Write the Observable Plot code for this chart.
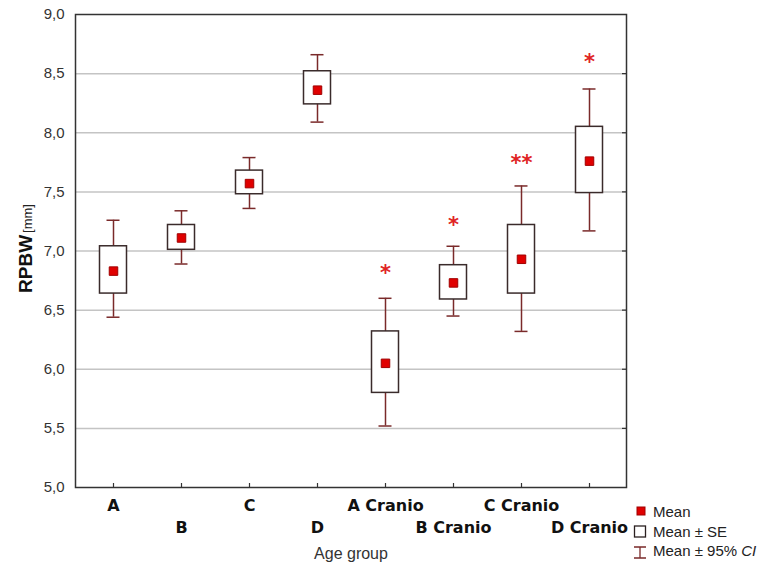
<!DOCTYPE html>
<html>
<head>
<meta charset="utf-8">
<script src="https://cdn.jsdelivr.net/npm/d3@7"></script>
<script src="https://cdn.jsdelivr.net/npm/@observablehq/plot@0.6"></script>
<style>
  body { margin: 0; background: #fff; }
  #wrap { position: relative; width: 764px; height: 567px; overflow: hidden; }
  #legend { position: absolute; left: 630px; top: 0; width: 134px; height: 567px;
            font-family: "Liberation Sans", Arial, sans-serif; font-size: 15px; color: #222; }
  .item { position: absolute; left: 0; height: 20px; display: flex; align-items: center; white-space: nowrap; }
  .item svg { width: 23px; height: 20px; flex: none; }
</style>
</head>
<body>
<div id="wrap">
  <div id="chart"></div>
  <div id="legend">
    <div class="item" style="top:501px"><svg viewBox="0 0 23 20"><rect x="7" y="6" width="8" height="8" fill="#e00000" stroke="#a00000" stroke-width="1"/></svg><span>Mean</span></div>
    <div class="item" style="top:521px"><svg viewBox="0 0 23 20"><rect x="4.5" y="5" width="11" height="11" fill="#fff" stroke="#2a2020" stroke-width="1.3"/></svg><span>Mean ± SE</span></div>
    <div class="item" style="top:540px"><svg viewBox="0 0 23 20"><path d="M4,7H16M10,7V18M4,18H16" fill="none" stroke="#7a2a2a" stroke-width="1.3"/></svg><span>Mean ± 95% <i>CI</i></span></div>
  </div>
</div>
<script>
const categories = ["A", "B", "C", "D", "A Cranio", "B Cranio", "C Cranio", "D Cranio"];
const means  = [6.83, 7.11, 7.57, 8.36, 6.05, 6.73, 6.93, 7.76];
const seLow  = [6.64, 7.01, 7.48, 8.24, 5.80, 6.59, 6.64, 7.49];
const seHigh = [7.04, 7.22, 7.68, 8.52, 6.32, 6.88, 7.22, 8.05];
const ciLow  = [6.44, 6.89, 7.36, 8.09, 5.52, 6.45, 6.32, 7.17];
const ciHigh = [7.26, 7.34, 7.79, 8.66, 6.60, 7.04, 7.55, 8.37];
const sigMarks = ["", "", "", "", "*", "*", "**", "*"];
const sigY     = [null, null, null, null, 6.85, 7.26, 7.78, 8.64];
const yTicks = [5.0, 5.5, 6.0, 6.5, 7.0, 7.5, 8.0, 8.5, 9.0];
const gridTicks = [5.5, 6.0, 6.5, 7.0, 7.5, 8.0, 8.5];
const labelRow1 = ["A", "C", "A Cranio", "C Cranio"];
const labelRow2 = ["B", "D", "B Cranio", "D Cranio"];
const yLabelMain = "RPBW";
const yLabelUnit = "[mm]";

const data = categories.map((c, i) => ({
  cat: c, mean: means[i], seLo: seLow[i], seHi: seHigh[i],
  ciLo: ciLow[i], ciHi: ciHigh[i], sig: sigMarks[i], sigY: sigY[i]
}));
const fmt = d => d.toFixed(1).replace(".", ",");
const boxStroke = "#3a2b2b";
const whisk = "#7a2a2a";

const chart = Plot.plot({
  width: 764, height: 567,
  marginLeft: 75, marginRight: 138, marginTop: 14, marginBottom: 80,
  style: { fontFamily: "'Liberation Sans', Arial, sans-serif", background: "white", overflow: "visible" },
  x: { type: "band", domain: categories, padding: 0, label: null },
  y: { domain: [5, 9], label: null },
  marks: [
    Plot.gridY(gridTicks, { stroke: "#c4c4c4", strokeWidth: 1.5, strokeOpacity: 1 }),
    Plot.axisY(yTicks, { anchor: "left", tickSize: 0, tickPadding: 11, tickFormat: fmt, fontSize: 15, fill: "#333", label: null }),
    Plot.axisY(gridTicks, { anchor: "right", tickSize: 5, dx: -5, tickFormat: () => "", stroke: "#333", strokeWidth: 1.2, label: null }),
    Plot.axisX({ anchor: "bottom", tickSize: 4, dy: -4, tickFormat: () => "", stroke: "#333", strokeWidth: 1.2, label: null }),
    Plot.axisX(labelRow1, { anchor: "bottom", tickSize: 0, tickPadding: 12, fontSize: 16, fontWeight: "bold", fontFamily: "DejaVu Sans", fill: "#111", label: null }),
    Plot.axisX(labelRow2, { anchor: "bottom", tickSize: 0, tickPadding: 34, fontSize: 16, fontWeight: "bold", fontFamily: "DejaVu Sans", fill: "#111", label: null }),
    Plot.text(["Age group"], { frameAnchor: "bottom", dy: 71, text: d => d, fontSize: 16, fill: "#333" }),
    Plot.ruleX(data, { x: "cat", y1: "ciLo", y2: "ciHi", stroke: whisk, strokeWidth: 1.5 }),
    Plot.tickY(data, { x: "cat", y: "ciHi", stroke: whisk, strokeWidth: 1.5, insetLeft: 27.5, insetRight: 27.5 }),
    Plot.tickY(data, { x: "cat", y: "ciLo", stroke: whisk, strokeWidth: 1.5, insetLeft: 27.5, insetRight: 27.5 }),
    Plot.barY(data, { x: "cat", y1: "seLo", y2: "seHi", fill: "white", stroke: boxStroke, strokeWidth: 1.5, insetLeft: 20.5, insetRight: 20.5 }),
    Plot.dot(data, { x: "cat", y: "mean", symbol: "square", r: 4.8, fill: "#e00000", stroke: "#a00000", strokeWidth: 1 }),
    Plot.text(data.filter(d => d.sig), { x: "cat", y: "sigY", text: "sig", fill: "#e02424", fontSize: 21, fontWeight: "bold", fontFamily: "DejaVu Sans", dy: 5 }),
    Plot.frame({ stroke: "#333", strokeWidth: 1.5 })
  ]
});

// rotated y-axis title with mixed styling, centred on the plot frame
const svg = d3.select(chart);
const yMid = (14 + (567 - 80)) / 2;
const t = svg.append("text")
  .attr("transform", `translate(32,${yMid - 2}) rotate(-90)`)
  .attr("text-anchor", "middle")
  .attr("font-family", "'Liberation Sans', Arial, sans-serif");
t.append("tspan").attr("font-size", 19).attr("font-weight", "bold").attr("fill", "#111").text(yLabelMain);
t.append("tspan").attr("font-size", 13).attr("fill", "#222").attr("dx", 2).text(yLabelUnit);

document.getElementById("chart").appendChild(chart);
</script>
</body>
</html>
